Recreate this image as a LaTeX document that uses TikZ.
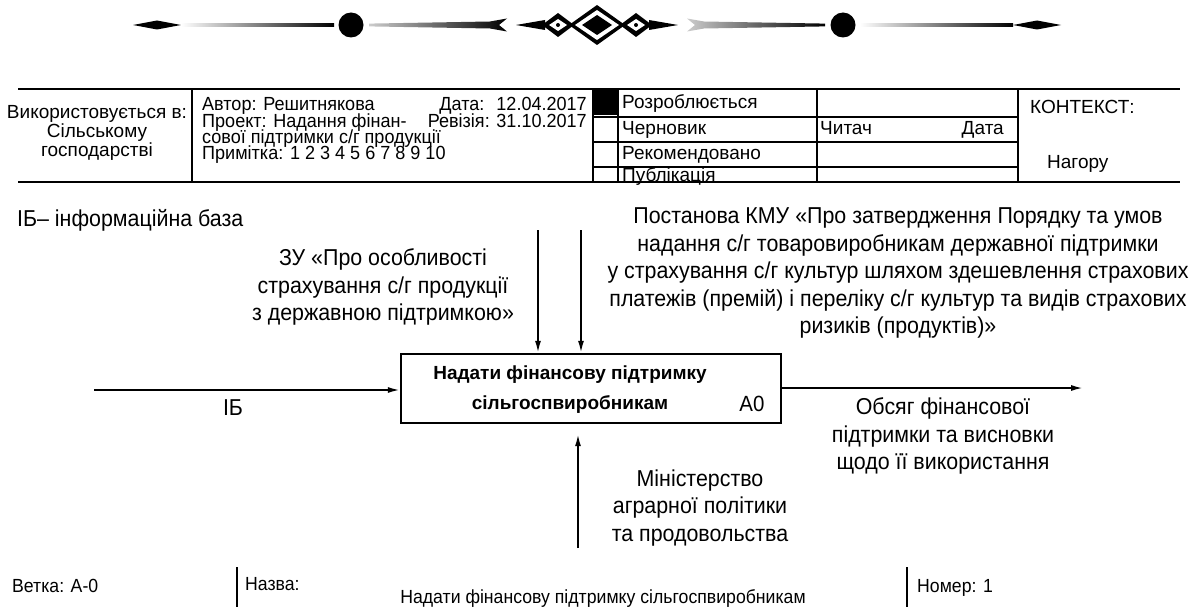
\documentclass[tikz,border=0pt]{standalone}
\usepackage{fontspec}
\setmainfont{Liberation Sans}
\newfontfamily\narrowfont{Liberation Sans}[FakeStretch=0.93]
\newfontfamily\formfont{Liberation Sans}[FakeStretch=0.95]
\usetikzlibrary{arrows.meta}

% one half of the divider over the frame, mirrored for the right side
\newcommand{\halfornament}{%
  \fill (133,25) -- (157,20.5) -- (181,25) -- (157,29.5) -- cycle;
  \shade[left color=white, right color=black] (181,23.6) rectangle (334,26.4);
  \fill (351,25) circle (12.5);
  \shade[left color=gray!40, right color=black]
    (369,23.6) -- (490,21.5) -- (507,18.5) -- (499,25) -- (507,31.5) -- (490,28.5) -- (369,26.4) -- cycle;
  \fill (516,25) -- (545,20) -- (545,30) -- cycle;
}

\begin{document}
\begin{tikzpicture}[
    x=1pt, y=-1pt,
    font=\fontsize{19}{16.7}\selectfont,
    frame/.style={line width=1.6pt},
    cell/.style={anchor=base west, inner sep=0pt},
    cell right/.style={anchor=base east, inner sep=0pt},
    form/.style={font=\formfont\fontsize{19}{16.7}\selectfont},
    func box/.style={draw, line width=2.4pt, minimum width=380pt, minimum height=69pt, inner sep=0pt},
    flow/.style={line width=1.8pt, -{Latex[length=12pt,width=6pt]}},
    lbl/.style={align=center, inner sep=0pt, font=\narrowfont\fontsize{23}{27.5}\selectfont},
    foot/.style={anchor=base west, inner sep=0pt, font=\narrowfont\fontsize{19}{20}\selectfont},
]
\useasboundingbox (0,0) rectangle (1192,607);

% --- Divider ---
\halfornament
\begin{scope}[xshift=1194pt, xscale=-1]
  \halfornament
\end{scope}
% centre knot
\fill (597,5) -- (625,25) -- (597,45) -- (569,25) -- cycle;
\fill (558,13) -- (574,25) -- (558,37) -- (542,25) -- cycle;
\fill (636,13) -- (652,25) -- (636,37) -- (620,25) -- cycle;
\fill[white] (597,10) -- (619,25) -- (597,40) -- (575,25) -- cycle;
\fill (597,15) -- (612,25) -- (597,35) -- (582,25) -- cycle;
\fill[white] (558,19) -- (567,25) -- (558,31) -- (549,25) -- cycle;
\fill[white] (636,19) -- (645,25) -- (636,31) -- (627,25) -- cycle;
\fill (558,25) circle (2);
\fill (636,25) circle (2);

% --- Header frame ---
\draw[frame] (18,89) -- (1180,89);
\draw[frame] (18,182) -- (1180,182);
\draw[frame] (192,89) -- (192,182);
\draw[frame, line width=2.6pt] (593,89) -- (593,182);
\draw[frame] (618,89) -- (618,182);
\draw[frame] (817,89) -- (817,182);
\draw[frame] (1018,89) -- (1018,182);
\foreach \y in {117,142,167}
  \draw[frame] (593,\y) -- (1018,\y);
\fill (593,89) rectangle (618,115);

\node[align=center, inner sep=0pt] (usedin) at (97,133) {Використовується в:\\Сільському\\господарстві};
\node[cell, form] (author) at (202,111) {Автор: Решитнякова};
\node[cell right, form] (date) at (587,111) {Дата:\hspace{12pt}12.04.2017};
\node[cell, form] (project) at (202,127.5) {Проект: Надання фінан-};
\node[cell right, form] (rev) at (587,127.5) {Ревізія: 31.10.2017};
\node[cell, form] (project2) at (202,143.5) {сової підтримки с/г продукції};
\node[cell, form] (note) at (202,159.5) {Примітка: 1 2 3 4 5 6 7 8 9 10};

\node[cell] (st1) at (622,108.5) {Розроблюється};
\node[cell] (st2) at (622,134.5) {Черновик};
\node[cell] (st3) at (622,159.5) {Рекомендовано};
\node[cell] (st4) at (622,181.5) {Публікація};
\node[cell] (reader) at (820,134.5) {Читач};
\node[cell right] (rdate) at (1004,134.5) {Дата};
\node[cell] (ctx) at (1030,114) {КОНТЕКСТ:};
\node[cell] (up) at (1047,168) {Нагору};

% --- Function block ---
\node[func box] (a0) at (591,388.5) {};
\node[align=center, inner sep=0pt, font=\bfseries\fontsize{19}{30}\selectfont] (a0text) at (570,390) {Надати фінансову підтримку\\сільгоспвиробникам};
\node[inner sep=0pt, font=\narrowfont\fontsize{22}{24}\selectfont] (a0num) at (752,404) {A0};

% --- Arrows ---
\coordinate (ib) at (94,390);
\coordinate (law) at (538,230);
\coordinate (decree) at (581,230);
\coordinate (result) at (1083,388);
\coordinate (ministry) at (578,548);

\draw[flow] (ib) -- (ib -| a0.west);
\draw[flow] (law) -- (law |- a0.north);
\draw[flow] (decree) -- (decree |- a0.north);
\draw[flow] (result -| a0.east) -- (result);
\draw[flow, shorten >=10pt] (ministry) -- (ministry |- a0.south);

% --- Labels ---
\node[lbl, anchor=base west] (ibnote) at (17,226) {ІБ– інформаційна база};
\node[lbl] (ibtext) at (233,408) {ІБ};
\node[lbl] (lawtext) at (383,287) {ЗУ «Про особливості\\страхування с/г продукції\\з державною підтримкою»};
\node[lbl] (decreetext) at (898,273) {Постанова КМУ «Про затвердження Порядку та умов\\надання с/г товаровиробникам державної підтримки\\у страхування с/г культур шляхом здешевлення страхових\\платежів (премій) і переліку с/г культур та видів страхових\\ризиків (продуктів)»};
\node[lbl] (resulttext) at (943,436) {Обсяг фінансової\\підтримки та висновки\\щодо її використання};
\node[lbl] (ministrytext) at (700,508) {Міністерство\\аграрної політики\\та продовольства};

% --- Footer ---
\draw[frame] (237,567) -- (237,607);
\draw[frame] (907,567) -- (907,607);
\node[foot] (branch) at (12,592) {Ветка: А-0};
\node[foot] (titlekey) at (245,590) {Назва:};
\node[foot, anchor=base] (title) at (603,603) {Надати фінансову підтримку сільгоспвиробникам};
\node[foot] (number) at (917,592) {Номер: 1};

\end{tikzpicture}
\end{document}
